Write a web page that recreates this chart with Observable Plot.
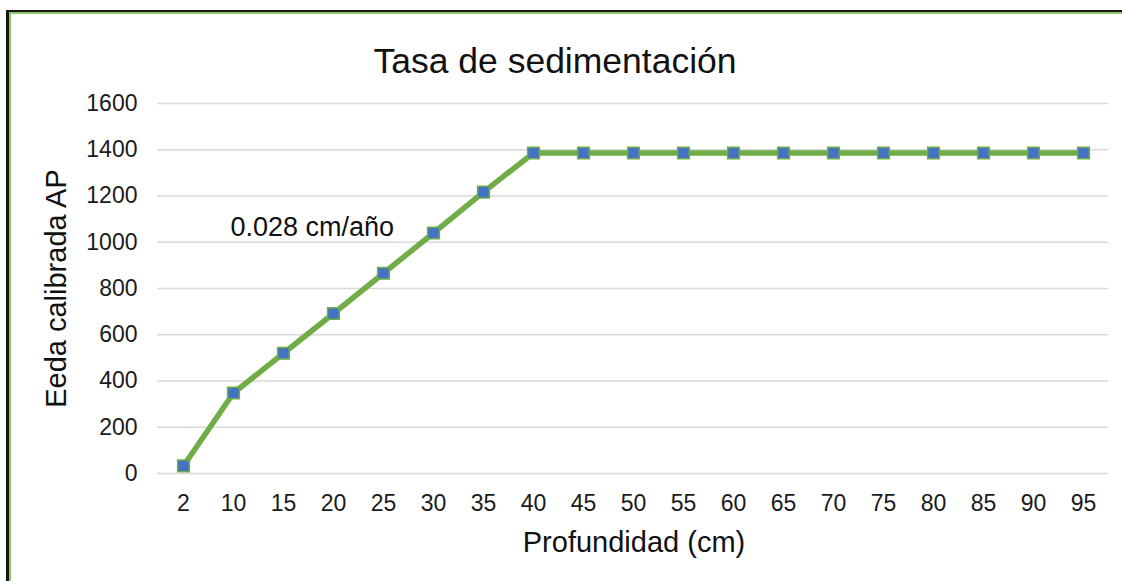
<!DOCTYPE html>
<html>
<head>
<meta charset="utf-8">
<script src="https://cdn.jsdelivr.net/npm/d3@7"></script>
<script src="https://cdn.jsdelivr.net/npm/@observablehq/plot@0.6"></script>
<style>
  html, body { margin: 0; padding: 0; background: #fff; }
  #wrap { position: relative; width: 1122px; height: 581px; overflow: hidden; }
  #wrap svg { position: absolute; left: 0; top: 0; }
  #frame { position: absolute; left: 6px; top: 10px; right: -20px; bottom: -20px;
           border-top: 2px solid #151515; border-left: 3px solid #151515; z-index: 2; pointer-events: none; }
  #frame > div { position: absolute; left: 0; top: 0; right: 0; bottom: 0;
           border-top: 2px solid #8cc66a; border-left: 2px solid #8cc66a; }
</style>
</head>
<body>
<div id="wrap"><div id="frame"><div></div></div></div>
<script>
// ---- data ----
const depths = ["2","10","15","20","25","30","35","40","45","50","55","60","65","70","75","80","85","90","95"];
const ages   = [33, 348, 520, 692, 866, 1040, 1217, 1386, 1386, 1386, 1386, 1386, 1386, 1386, 1386, 1386, 1386, 1386, 1386];
const yTicks = [0, 200, 400, 600, 800, 1000, 1200, 1400, 1600];
const titleText = "Tasa de sedimentación";
const xLabel = "Profundidad (cm)";
const yLabel = "Eeda calibrada AP";
const annotation = "0.028 cm/año";

const data = depths.map((d, i) => ({depth: d, age: ages[i]}));
const font = "'Liberation Sans', Arial, sans-serif";

const chart = Plot.plot({
  width: 1122,
  height: 581,
  marginLeft: 157,
  marginRight: 14,
  marginTop: 103,
  marginBottom: 108,
  style: {fontFamily: font, background: "transparent", color: "#1a1a1a"},
  x: {type: "point", domain: depths, padding: 0.5},
  y: {domain: [0, 1600]},
  marks: [
    Plot.ruleY(yTicks, {stroke: "#d9d9d9", strokeWidth: 1.6}),
    Plot.axisY({ticks: yTicks, tickFormat: d => String(d), tickSize: 0, tickPadding: 20, fontSize: 23, label: null}),
    Plot.axisX({tickSize: 0, tickPadding: 21, fontSize: 23, label: null}),
    Plot.line(data, {x: "depth", y: "age", stroke: "#70AD47", strokeWidth: 5.5, strokeLinejoin: "round"}),
    Plot.dot(data, {x: "depth", y: "age", symbol: "square", r: 6.6, fill: "#4472C4", stroke: "#70AD47", strokeWidth: 1.5}),
    Plot.text([titleText], {frameAnchor: "top", text: d => d, lineAnchor: "bottom", dy: -31, dx: -78, fontSize: 35.5, fill: "#111"}),
    Plot.text([xLabel], {frameAnchor: "bottom", text: d => d, lineAnchor: "bottom", dy: 78, dx: 1, fontSize: 29, fill: "#111"}),
    Plot.text([yLabel], {frameAnchor: "left", text: d => d, rotate: -90, textAnchor: "middle", lineAnchor: "middle", dx: -101, fontSize: 29, fill: "#111"}),
    Plot.text([annotation], {frameAnchor: "top-left", text: d => d, textAnchor: "start", lineAnchor: "bottom", dx: 73, dy: 132, fontSize: 27, fill: "#111"})
  ]
});
document.getElementById("wrap").appendChild(chart);
</script>
</body>
</html>
